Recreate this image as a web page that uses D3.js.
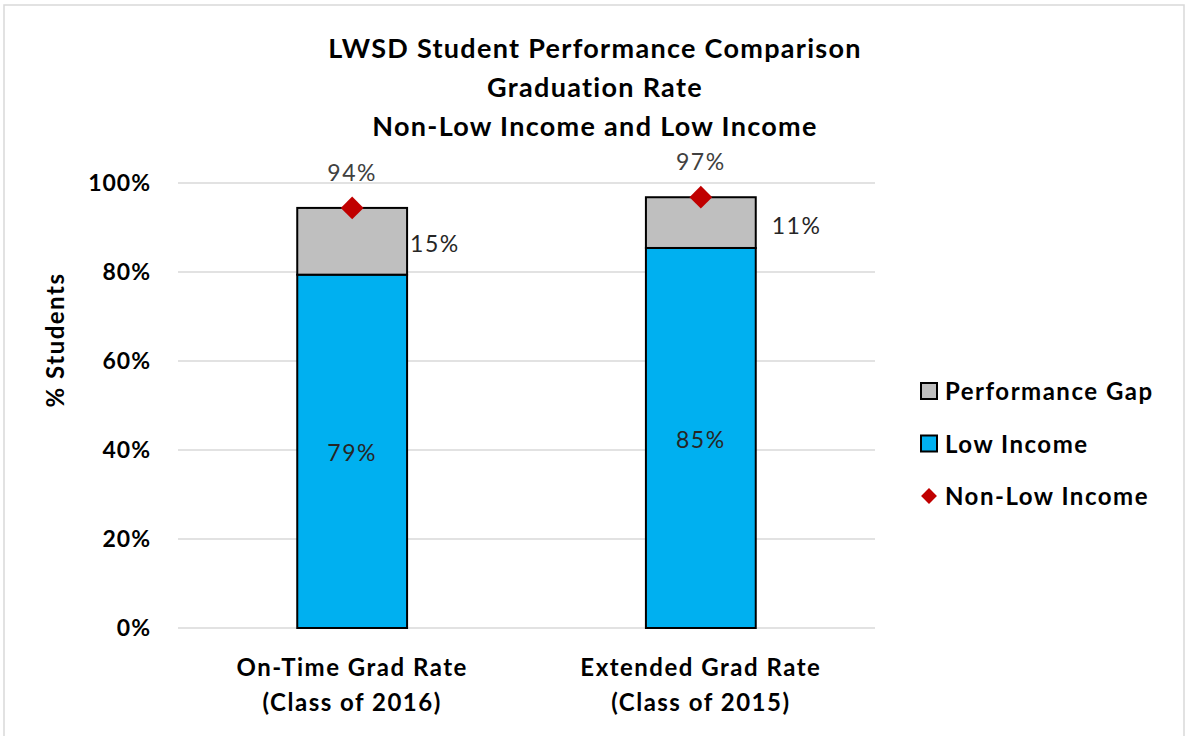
<!DOCTYPE html>
<html>
<head>
<meta charset="utf-8">
<script src="https://cdn.jsdelivr.net/npm/d3@7"></script>
<style>
  body { margin: 0; background: #fff; }
  svg { font-family: Lato, "Open Sans", sans-serif; }
</style>
</head>
<body>
<div class="canva"></div>
<script>
// chart values
const categories = [['On-Time Grad Rate', '(Class of 2016)'], ['Extended Grad Rate', '(Class of 2015)']];
const lowIncome = [79.4, 85.4];
const perfGap = [15.0, 11.4];
const nonLowIncome = [94.4, 96.8];
const yTicks = [0, 20, 40, 60, 80, 100];
const titleLines = ['LWSD Student Performance Comparison', 'Graduation Rate', 'Non-Low Income and Low Income'];
const legendItems = ['Performance Gap', 'Low Income', 'Non-Low Income'];

const W = 1186, H = 736;
const plot = { left: 178, right: 875, top: 183, bottom: 628 };

const svg = d3.select('.canva').append('svg')
    .attr('width', W)
    .attr('height', H);

// outer frame
svg.append('rect')
    .attr('x', 4).attr('y', 5)
    .attr('width', 1180).attr('height', H)
    .attr('fill', 'none')
    .attr('stroke', '#d9d9d9')
    .attr('stroke-width', 1.5);

const x = d3.scaleBand()
    .domain(d3.range(categories.length))
    .range([plot.left, plot.right])
    .paddingInner(0.685)
    .paddingOuter(0.342);

const y = d3.scaleLinear()
    .domain([0, 100])
    .range([plot.bottom, plot.top]);

// gridlines
svg.append('g')
    .selectAll('line')
    .data(yTicks)
    .join('line')
    .attr('x1', plot.left).attr('x2', plot.right)
    .attr('y1', d => y(d)).attr('y2', d => y(d))
    .attr('stroke', '#d9d9d9')
    .attr('stroke-width', 1.5);

// y axis labels
const yAxis = svg.append('g')
    .attr('transform', `translate(${plot.left},0)`)
    .call(d3.axisLeft(y).tickValues(yTicks).tickFormat(d => d + '%').tickSize(0).tickPadding(27));
yAxis.select('.domain').remove();
yAxis.selectAll('text')
    .attr('font-family', 'Lato, sans-serif')
    .attr('font-size', 23)
    .attr('letter-spacing', 1)
    .attr('font-weight', 'bold')
    .attr('fill', '#000');

svg.append('text')
    .attr('transform', `translate(64,340) rotate(-90)`)
    .attr('text-anchor', 'middle')
    .attr('font-size', 24)
    .attr('letter-spacing', 1.5)
    .attr('font-weight', 'bold')
    .text('% Students');

// stacked bars
const bars = svg.append('g');
bars.selectAll('rect.low')
    .data(lowIncome)
    .join('rect')
    .attr('class', 'low')
    .attr('x', (d, i) => x(i))
    .attr('width', x.bandwidth())
    .attr('y', d => y(d))
    .attr('height', d => y(0) - y(d))
    .attr('fill', '#00b0f0')
    .attr('stroke', '#000')
    .attr('stroke-width', 2);

bars.selectAll('rect.gap')
    .data(perfGap)
    .join('rect')
    .attr('class', 'gap')
    .attr('x', (d, i) => x(i))
    .attr('width', x.bandwidth())
    .attr('y', (d, i) => y(lowIncome[i] + d))
    .attr('height', (d, i) => y(lowIncome[i]) - y(lowIncome[i] + d))
    .attr('fill', '#bfbfbf')
    .attr('stroke', '#000')
    .attr('stroke-width', 2);

// diamonds
const diamond = d3.symbol().type(d3.symbolDiamond2).size(330);
svg.append('g')
    .selectAll('path')
    .data(nonLowIncome)
    .join('path')
    .attr('d', diamond)
    .attr('transform', (d, i) => `translate(${x(i) + x.bandwidth() / 2},${y(d)})`)
    .attr('fill', '#c00000');

// data labels
const labels = svg.append('g')
    .attr('font-size', 23)
    .attr('letter-spacing', 1.5)
    .attr('fill', '#262626');

labels.selectAll('text.nl')
    .data(nonLowIncome)
    .join('text')
    .attr('x', (d, i) => x(i) + x.bandwidth() / 2)
    .attr('y', d => y(d) - 27)
    .attr('text-anchor', 'middle')
    .attr('fill', '#404040')
    .text(d => Math.round(d) + '%');

const gapOffset = [3, 16];
labels.selectAll('text.gp')
    .data(perfGap)
    .join('text')
    .attr('x', (d, i) => x(i) + x.bandwidth() + gapOffset[i])
    .attr('y', (d, i) => y(lowIncome[i] + d / 2) + 11)
    .attr('fill', '#262626')
    .text(d => Math.round(d) + '%');

labels.selectAll('text.li')
    .data(lowIncome)
    .join('text')
    .attr('x', (d, i) => x(i) + x.bandwidth() / 2)
    .attr('y', d => y(d / 2) + 10)
    .attr('text-anchor', 'middle')
    .attr('fill', '#262626')
    .text(d => Math.round(d) + '%');

// category labels
svg.append('g')
    .selectAll('text')
    .data(categories)
    .join('text')
    .attr('x', (d, i) => x(i) + x.bandwidth() / 2)
    .attr('y', 676)
    .attr('text-anchor', 'middle')
    .attr('font-size', 24)
    .attr('letter-spacing', 1.5)
    .attr('font-weight', 'bold')
    .selectAll('tspan')
    .data(d => d)
    .join('tspan')
    .attr('x', function () { return this.parentNode.getAttribute('x'); })
    .attr('dy', (d, i) => i === 0 ? 0 : 35)
    .text(d => d);

// title
svg.append('text')
    .attr('x', 595)
    .attr('y', 58)
    .attr('text-anchor', 'middle')
    .attr('font-size', 27)
    .attr('letter-spacing', 1.3)
    .attr('font-weight', 'bold')
    .selectAll('tspan')
    .data(titleLines)
    .join('tspan')
    .attr('x', 595)
    .attr('dy', (d, i) => i === 0 ? 0 : 39)
    .text(d => d);

// legend
const legend = svg.append('g')
    .attr('transform', 'translate(929,391)');
const item = legend.selectAll('g')
    .data(legendItems)
    .join('g')
    .attr('transform', (d, i) => `translate(0,${i * 52.5})`);

item.filter((d, i) => i < 2)
    .append('rect')
    .attr('x', -8).attr('y', -8)
    .attr('width', 16).attr('height', 16)
    .attr('fill', (d, i) => i === 0 ? '#bfbfbf' : '#00b0f0')
    .attr('stroke', '#000')
    .attr('stroke-width', 2);

item.filter((d, i) => i === 2)
    .append('path')
    .attr('d', d3.symbol().type(d3.symbolDiamond2).size(160))
    .attr('fill', '#c00000');

item.append('text')
    .attr('x', 16)
    .attr('y', 9)
    .attr('font-size', 24)
    .attr('letter-spacing', 1.5)
    .attr('font-weight', 'bold')
    .text(d => d);
</script>
</body>
</html>
